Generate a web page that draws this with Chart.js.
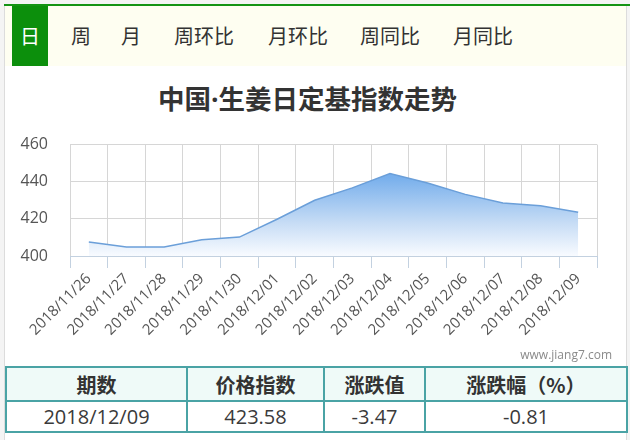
<!DOCTYPE html>
<html>
<head>
<meta charset="utf-8">
<script src="https://cdn.jsdelivr.net/npm/chart.js@4/dist/chart.umd.min.js"></script>
<style>
  html, body { margin:0; padding:0; width:630px; height:440px; overflow:hidden; background:#f4f4f4; }
  body { position:relative; font-family:"Noto Sans CJK SC","Open Sans",sans-serif; }
  #frame { position:absolute; left:4px; top:4px; width:621px; height:436px; background:#fff; border-left:1px solid #dcdcdc; border-right:1px solid #dcdcdc; }
  #greenline { position:absolute; left:4px; top:4px; width:626px; height:2px; background:#149414; }
  #tabbar { position:absolute; left:5px; top:6px; width:621px; height:60px; background:#fefef1; }
  .tab { position:absolute; top:6px; height:60px; line-height:60px; font-size:20px; color:#333; transform:translateX(-50%); white-space:nowrap; }
  #active { position:absolute; left:12px; top:6px; width:36px; height:60px; background:#0c8f0c; color:#fff; font-size:20px; line-height:60px; text-align:center; }
  #title { position:absolute; left:0; width:615px; text-align:center; top:80px; font-size:26.5px; font-weight:bold; color:#333; white-space:nowrap; line-height:36px; }
  #title .dot { font-family:"Open Sans",sans-serif; }
  #chartbox { position:absolute; left:0; top:113px; width:630px; height:247px; }
  #wm { position:absolute; right:18px; top:346px; font-family:"Open Sans",sans-serif; font-size:12px; color:#8a8a8a; }
  table { position:absolute; left:5px; top:366px; width:621px; border-collapse:collapse; table-layout:fixed; }
  td, th { border:2px solid #4aa3a5; text-align:center; color:#333; padding:0; }
  th { height:32px; background:#effaf8; font-size:20px; font-weight:bold; }
  td { height:29px; font-size:20px; font-family:"Open Sans","Noto Sans CJK SC",sans-serif; color:#3a3a3a; }
</style>
</head>
<body>
<div id="frame"></div>
<div id="greenline"></div>
<div id="tabbar"></div>
<div id="active">日</div>
<div class="tab" style="left:81px">周</div>
<div class="tab" style="left:131px">月</div>
<div class="tab" style="left:204px">周环比</div>
<div class="tab" style="left:298px">月环比</div>
<div class="tab" style="left:390px">周同比</div>
<div class="tab" style="left:483px">月同比</div>
<div id="title">中国<span class="dot">·</span>生姜日定基指数走势</div>
<div id="chartbox"><canvas id="c" width="630" height="247"></canvas></div>
<div id="wm">www.jiang7.com</div>
<table>
  <colgroup><col style="width:181px"><col style="width:137px"><col style="width:101px"><col style="width:202px"></colgroup>
  <tr><th>期数</th><th>价格指数</th><th>涨跌值</th><th>涨跌幅（%）</th></tr>
  <tr><td>2018/12/09</td><td>423.58</td><td>-3.47</td><td>-0.81</td></tr>
</table>
<script>
const dates = ["2018/11/26","2018/11/27","2018/11/28","2018/11/29","2018/11/30","2018/12/01","2018/12/02","2018/12/03","2018/12/04","2018/12/05","2018/12/06","2018/12/07","2018/12/08","2018/12/09"];
const indexValues = [407.5, 404.8, 404.8, 408.8, 410.2, 419.8, 430.0, 436.7, 444.4, 439.3, 433.2, 428.6, 427.05, 423.58];
const yTicks = [400, 420, 440, 460];

const ctx = document.getElementById('c');
new Chart(ctx, {
  type: 'line',
  data: {
    labels: dates,
    datasets: [{
      data: indexValues,
      borderColor: '#6b9fd9',
      borderWidth: 1.5,
      pointRadius: 0,
      tension: 0,
      fill: 'start',
      backgroundColor: (c) => {
        const chart = c.chart;
        const area = chart.chartArea;
        if (!area) return 'rgba(120,170,230,0.5)';
        const g = chart.ctx.createLinearGradient(0, area.top, 0, area.bottom);
        g.addColorStop(0, '#5f9fe6');
        g.addColorStop(0.3, '#79b0ec');
        g.addColorStop(0.7, '#c6dcf5');
        g.addColorStop(1, '#f8fbff');
        return g;
      }
    }]
  },
  options: {
    responsive: false,
    devicePixelRatio: 1,
    animation: false,
    layout: { padding: { left: 0, right: 33, top: 16, bottom: 0 } },
    plugins: { legend: { display: false }, tooltip: { enabled: false } },
    scales: {
      x: {
        offset: true,
        grid: { color: '#d6d6d6', tickColor: '#c3d1e0', tickLength: 12, offset: true },
        border: { color: '#c3d1e0' },
        ticks: {
          autoSkip: false, maxRotation: 45, minRotation: 45, padding: 2,
          color: '#555', font: { family: 'Open Sans', size: 15 }
        },
        afterFit: (s) => { s.height = 104; }
      },
      y: {
        min: 400, max: 460,
        afterBuildTicks: (s) => { s.ticks = yTicks.map(v => ({ value: v })); },
        grid: { color: '#d6d6d6', drawTicks: false },
        border: { display: false },
        ticks: { padding: 22, color: '#555', font: { family: 'Open Sans', size: 16 } },
        afterFit: (s) => { s.width = 70; }
      }
    }
  }
});
</script>
</body>
</html>
